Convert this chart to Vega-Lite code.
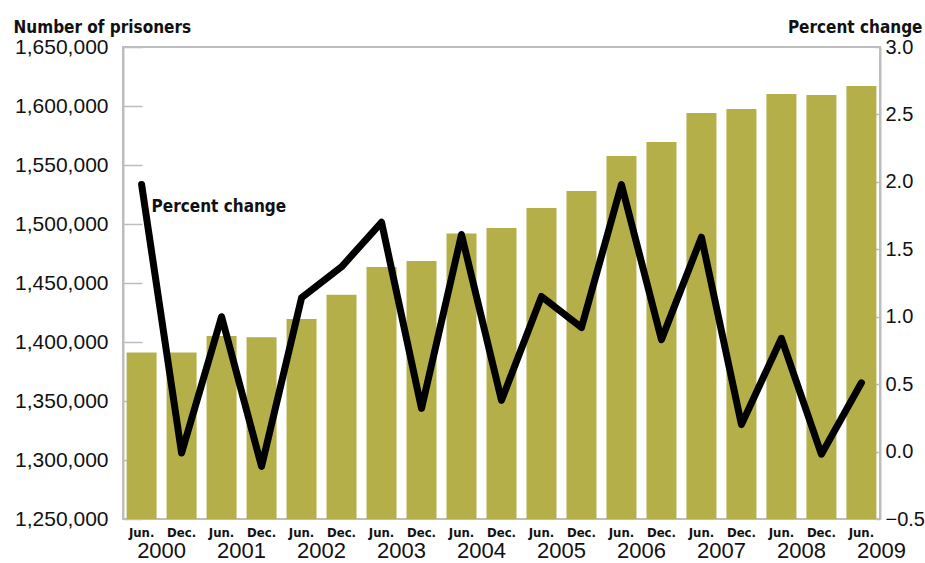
{
  "$schema": "https://vega.github.io/schema/vega-lite/v6.json",
  "autosize": {"type": "none"},
  "width": 757,
  "height": 472,
  "padding": {"left": 123, "top": 47, "right": 45, "bottom": 44},
  "background": "white",
  "config": {
    "view": {"stroke": "#bdbdbd", "strokeWidth": 2},
    "font": "Liberation Sans",
    "axis": {"labelColor": "#111", "titleColor": "#111", "domainColor": "#bdbdbd", "tickColor": "#bdbdbd", "domainWidth": 2, "tickWidth": 1.5, "grid": false}
  },
  "data": {"values": [
    {"period": "2000-Jun", "month": "Jun.", "year": "2000", "prisoners": 1391000, "pct": 1.98},
    {"period": "2000-Dec", "month": "Dec.", "year": "2000", "prisoners": 1391000, "pct": -0.01},
    {"period": "2001-Jun", "month": "Jun.", "year": "2001", "prisoners": 1405000, "pct": 1.0},
    {"period": "2001-Dec", "month": "Dec.", "year": "2001", "prisoners": 1404000, "pct": -0.11},
    {"period": "2002-Jun", "month": "Jun.", "year": "2002", "prisoners": 1419500, "pct": 1.14},
    {"period": "2002-Dec", "month": "Dec.", "year": "2002", "prisoners": 1440000, "pct": 1.37},
    {"period": "2003-Jun", "month": "Jun.", "year": "2003", "prisoners": 1463500, "pct": 1.7},
    {"period": "2003-Dec", "month": "Dec.", "year": "2003", "prisoners": 1468600, "pct": 0.32},
    {"period": "2004-Jun", "month": "Jun.", "year": "2004", "prisoners": 1492000, "pct": 1.61},
    {"period": "2004-Dec", "month": "Dec.", "year": "2004", "prisoners": 1496600, "pct": 0.38},
    {"period": "2005-Jun", "month": "Jun.", "year": "2005", "prisoners": 1513600, "pct": 1.15},
    {"period": "2005-Dec", "month": "Dec.", "year": "2005", "prisoners": 1528000, "pct": 0.92},
    {"period": "2006-Jun", "month": "Jun.", "year": "2006", "prisoners": 1557600, "pct": 1.98},
    {"period": "2006-Dec", "month": "Dec.", "year": "2006", "prisoners": 1569500, "pct": 0.83},
    {"period": "2007-Jun", "month": "Jun.", "year": "2007", "prisoners": 1594000, "pct": 1.59},
    {"period": "2007-Dec", "month": "Dec.", "year": "2007", "prisoners": 1597500, "pct": 0.2},
    {"period": "2008-Jun", "month": "Jun.", "year": "2008", "prisoners": 1610200, "pct": 0.84},
    {"period": "2008-Dec", "month": "Dec.", "year": "2008", "prisoners": 1609300, "pct": -0.02},
    {"period": "2009-Jun", "month": "Jun.", "year": "2009", "prisoners": 1617000, "pct": 0.51}
  ]},
  "layer": [
    {
      "mark": {"type": "bar", "color": "#b4af48"},
      "encoding": {
        "x": {"field": "period", "type": "nominal", "sort": null,
          "scale": {"paddingInner": 0.25, "paddingOuter": 0.09}, "axis": null},
        "y": {"field": "prisoners", "type": "quantitative",
          "scale": {"domain": [1250000, 1650000], "zero": false, "nice": false},
          "axis": {"orient": "left", "values": [1250000, 1300000, 1350000, 1400000, 1450000, 1500000, 1550000, 1600000, 1650000],
            "format": ",d", "labelFontSize": 21, "tickSize": -19, "labelPadding": 34,
            "title": "Number of prisoners", "titleAngle": 0, "titleX": -110, "titleY": -15,
            "titleAlign": "left", "titleBaseline": "alphabetic",
            "titleFont": "DejaVu Sans Condensed", "titleFontSize": 17, "titleFontWeight": "bold"}},
        "y2": {"datum": 1250000}
      }
    },
    {
      "mark": {"type": "line", "color": "#000", "strokeWidth": 7, "strokeCap": "round", "strokeJoin": "round"},
      "encoding": {
        "x": {"field": "period", "type": "nominal", "sort": null, "axis": null},
        "y": {"field": "pct", "type": "quantitative",
          "scale": {"domain": [-0.5, 3.0], "zero": false, "nice": false},
          "axis": {"orient": "right", "values": [-0.5, 0, 0.5, 1, 1.5, 2, 2.5, 3], "format": ".1f",
            "labelFontSize": 20, "tickSize": -5, "labelPadding": 10,
            "title": "Percent change", "titleAngle": 0, "titleX": 42, "titleY": -15,
            "titleAlign": "right", "titleBaseline": "alphabetic",
            "titleFont": "DejaVu Sans Condensed", "titleFontSize": 17, "titleFontWeight": "bold"}}
      }
    },
    {
      "transform": [{"filter": "datum.period == '2000-Jun'"}],
      "mark": {"type": "text", "text": "Percent change", "align": "left", "baseline": "alphabetic", "dx": 10, "dy": 27,
        "font": "DejaVu Sans Condensed", "fontSize": 17, "fontWeight": "bold", "color": "#111"},
      "encoding": {
        "x": {"field": "period", "type": "nominal", "sort": null, "axis": null},
        "y": {"field": "pct", "type": "quantitative", "scale": {"domain": [-0.5, 3.0], "zero": false, "nice": false}, "axis": null}
      }
    },
    {
      "mark": {"type": "text", "align": "center", "baseline": "alphabetic", "dy": 18,
        "font": "DejaVu Sans Condensed", "fontSize": 13, "fontWeight": "bold", "color": "#111"},
      "encoding": {
        "x": {"field": "period", "type": "nominal", "sort": null, "axis": null},
        "y": {"datum": 0, "type": "quantitative", "scale": {"domain": [0, 1]}, "axis": null},
        "text": {"field": "month"}
      }
    },
    {
      "transform": [{"filter": "datum.month == 'Jun.'"}],
      "mark": {"type": "text", "align": "center", "baseline": "alphabetic", "dx": 20, "dy": 39,
        "font": "Liberation Sans", "fontSize": 22, "color": "#111"},
      "encoding": {
        "x": {"field": "period", "type": "nominal", "sort": null, "axis": null},
        "y": {"datum": 0, "type": "quantitative", "scale": {"domain": [0, 1]}, "axis": null},
        "text": {"field": "year"}
      }
    }
  ],
  "resolve": {"scale": {"y": "independent"}}
}
